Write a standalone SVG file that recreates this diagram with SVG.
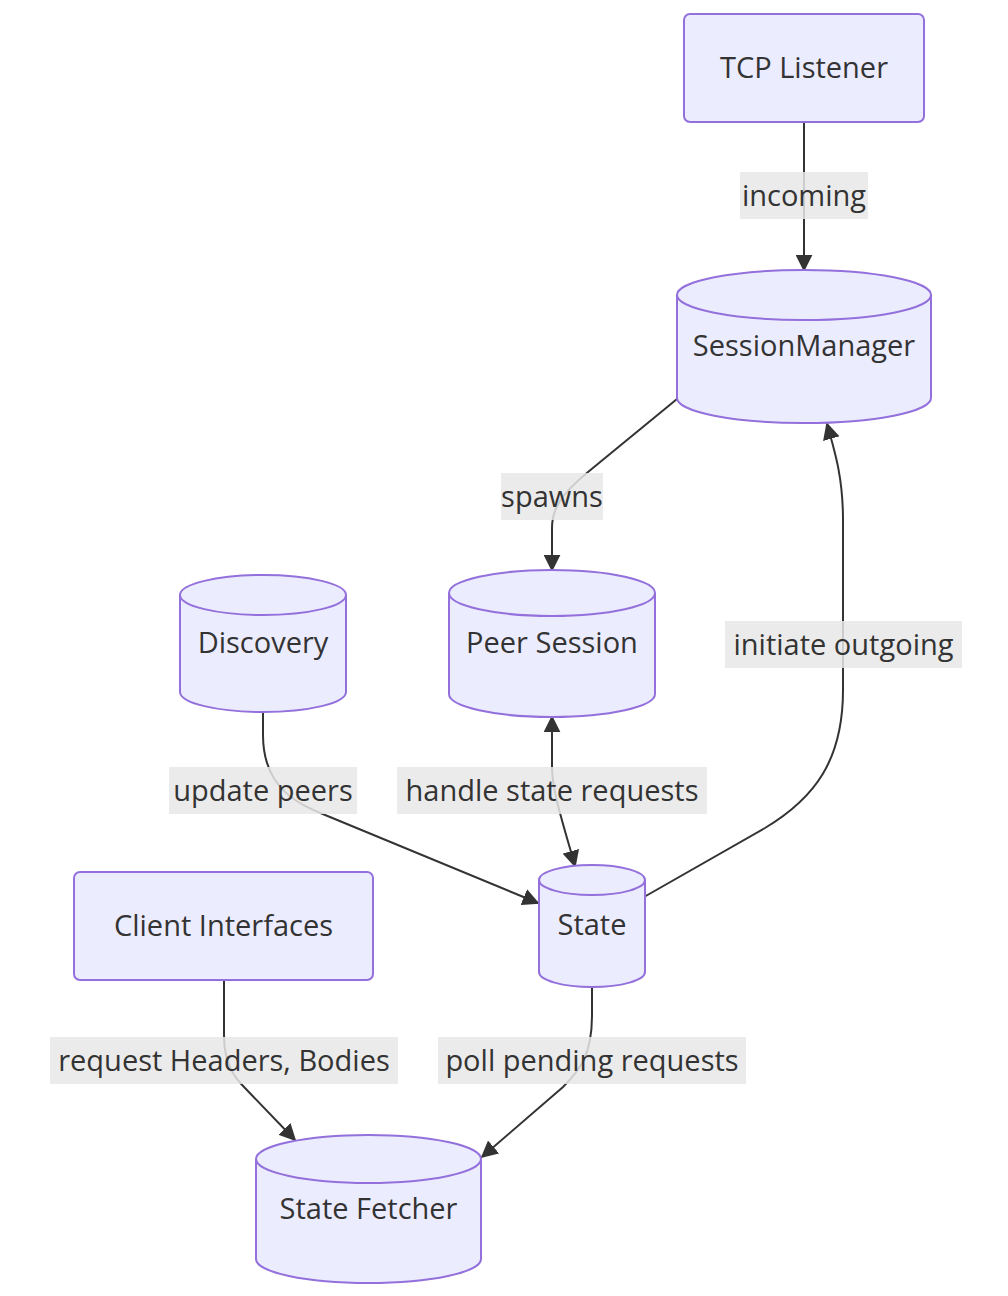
<svg xmlns="http://www.w3.org/2000/svg" width="1008" height="1296" viewBox="0 0 1008 1296">
<defs>
<marker id="arrowEnd" viewBox="0 0 10 10" refX="9" refY="5" markerUnits="userSpaceOnUse" markerWidth="17" markerHeight="17" orient="auto">
<path d="M0,0 L10,5 L0,10 z" fill="#333"/>
</marker>
<marker id="arrowStart" viewBox="0 0 10 10" refX="1" refY="5" markerUnits="userSpaceOnUse" markerWidth="17" markerHeight="17" orient="auto">
<path d="M10,0 L0,5 L10,10 z" fill="#333"/>
</marker>
<style>
.node{fill:#ECECFF;stroke:#9370DB;stroke-width:2}
.lbl{font-family:"Open Sans","Noto Sans","Liberation Sans",sans-serif;font-size:29px;fill:#333;text-anchor:middle;dominant-baseline:central}
.edge{fill:none;stroke:#333;stroke-width:2}
.elbg{fill:#e8e8e8;fill-opacity:0.85}
</style>
</defs>
<rect width="1008" height="1296" fill="#ffffff"/>
<g id="connectors">
<path class="edge" d="M804,122 L804,270" marker-end="url(#arrowEnd)"/>
<path class="edge" d="M677,399 L588,472 C560,495 552,510 552,528 L552,570" marker-end="url(#arrowEnd)"/>
<path class="edge" d="M644,897 L765,828 C815,798 843,760 843,690 L843,520 C843,480 836,455 827,424" marker-end="url(#arrowEnd)"/>
<path class="edge" d="M263,712 L263,735 C263,790 300,805 330,817 L538,903" marker-end="url(#arrowEnd)"/>
<path class="edge" d="M552,717 L552,767 C552,790 562,820 575,866" marker-start="url(#arrowStart)" marker-end="url(#arrowEnd)"/>
<path class="edge" d="M224,980 L224,1035 C224,1065 235,1078 245,1088 L295,1140" marker-end="url(#arrowEnd)"/>
<path class="edge" d="M592,987 L592,1015 C592,1055 580,1070 563,1087 L482,1157" marker-end="url(#arrowEnd)"/>
<g id="edge-labels">
<rect class="elbg" x="740" y="172" width="128" height="47"/>
<text class="lbl" x="804" y="194">incoming</text>
<rect class="elbg" x="501" y="473" width="102" height="47"/>
<text class="lbl" x="552" y="495">spawns</text>
<rect class="elbg" x="725" y="621" width="237" height="47"/>
<text class="lbl" x="843.5" y="643">initiate outgoing</text>
<rect class="elbg" x="169" y="767" width="188" height="47"/>
<text class="lbl" x="263" y="789">update peers</text>
<rect class="elbg" x="397" y="767" width="310" height="47"/>
<text class="lbl" x="552" y="789">handle state requests</text>
<rect class="elbg" x="50" y="1037" width="348" height="47"/>
<text class="lbl" x="224" y="1059">request Headers, Bodies</text>
<rect class="elbg" x="438" y="1037" width="308" height="47"/>
<text class="lbl" x="592" y="1059">poll pending requests</text>
</g>
</g>
<g id="tcp-listener">
<rect class="node" x="684" y="14" width="240" height="108" rx="6" ry="6"/>
<text class="lbl" x="804" y="66.5">TCP Listener</text>
</g>
<g id="session-manager">
<path class="node" d="M677,295 a127,25 0 0 0 254,0 a127,25 0 0 0 -254,0 l0,103 a127,25 0 0 0 254,0 l0,-103"/>
<text class="lbl" x="804" y="344.5">SessionManager</text>
</g>
<g id="peer-session">
<path class="node" d="M449,593 a103,23 0 0 0 206,0 a103,23 0 0 0 -206,0 l0,101 a103,23 0 0 0 206,0 l0,-101"/>
<text class="lbl" x="552" y="641.5">Peer Session</text>
</g>
<g id="discovery">
<path class="node" d="M180,595 a83,20 0 0 0 166,0 a83,20 0 0 0 -166,0 l0,97 a83,20 0 0 0 166,0 l0,-97"/>
<text class="lbl" x="263" y="641.5">Discovery</text>
</g>
<g id="state">
<path class="node" d="M539,880 a53,15 0 0 0 106,0 a53,15 0 0 0 -106,0 l0,92 a53,15 0 0 0 106,0 l0,-92"/>
<text class="lbl" x="592" y="923.5">State</text>
</g>
<g id="client-interfaces">
<rect class="node" x="74" y="872" width="299" height="108" rx="6" ry="6"/>
<text class="lbl" x="223.5" y="924.5">Client Interfaces</text>
</g>
<g id="state-fetcher">
<path class="node" d="M256,1159 a112.5,24 0 0 0 225,0 a112.5,24 0 0 0 -225,0 l0,100 a112.5,24 0 0 0 225,0 l0,-100"/>
<text class="lbl" x="368.5" y="1207.5">State Fetcher</text>
</g>
</svg>
